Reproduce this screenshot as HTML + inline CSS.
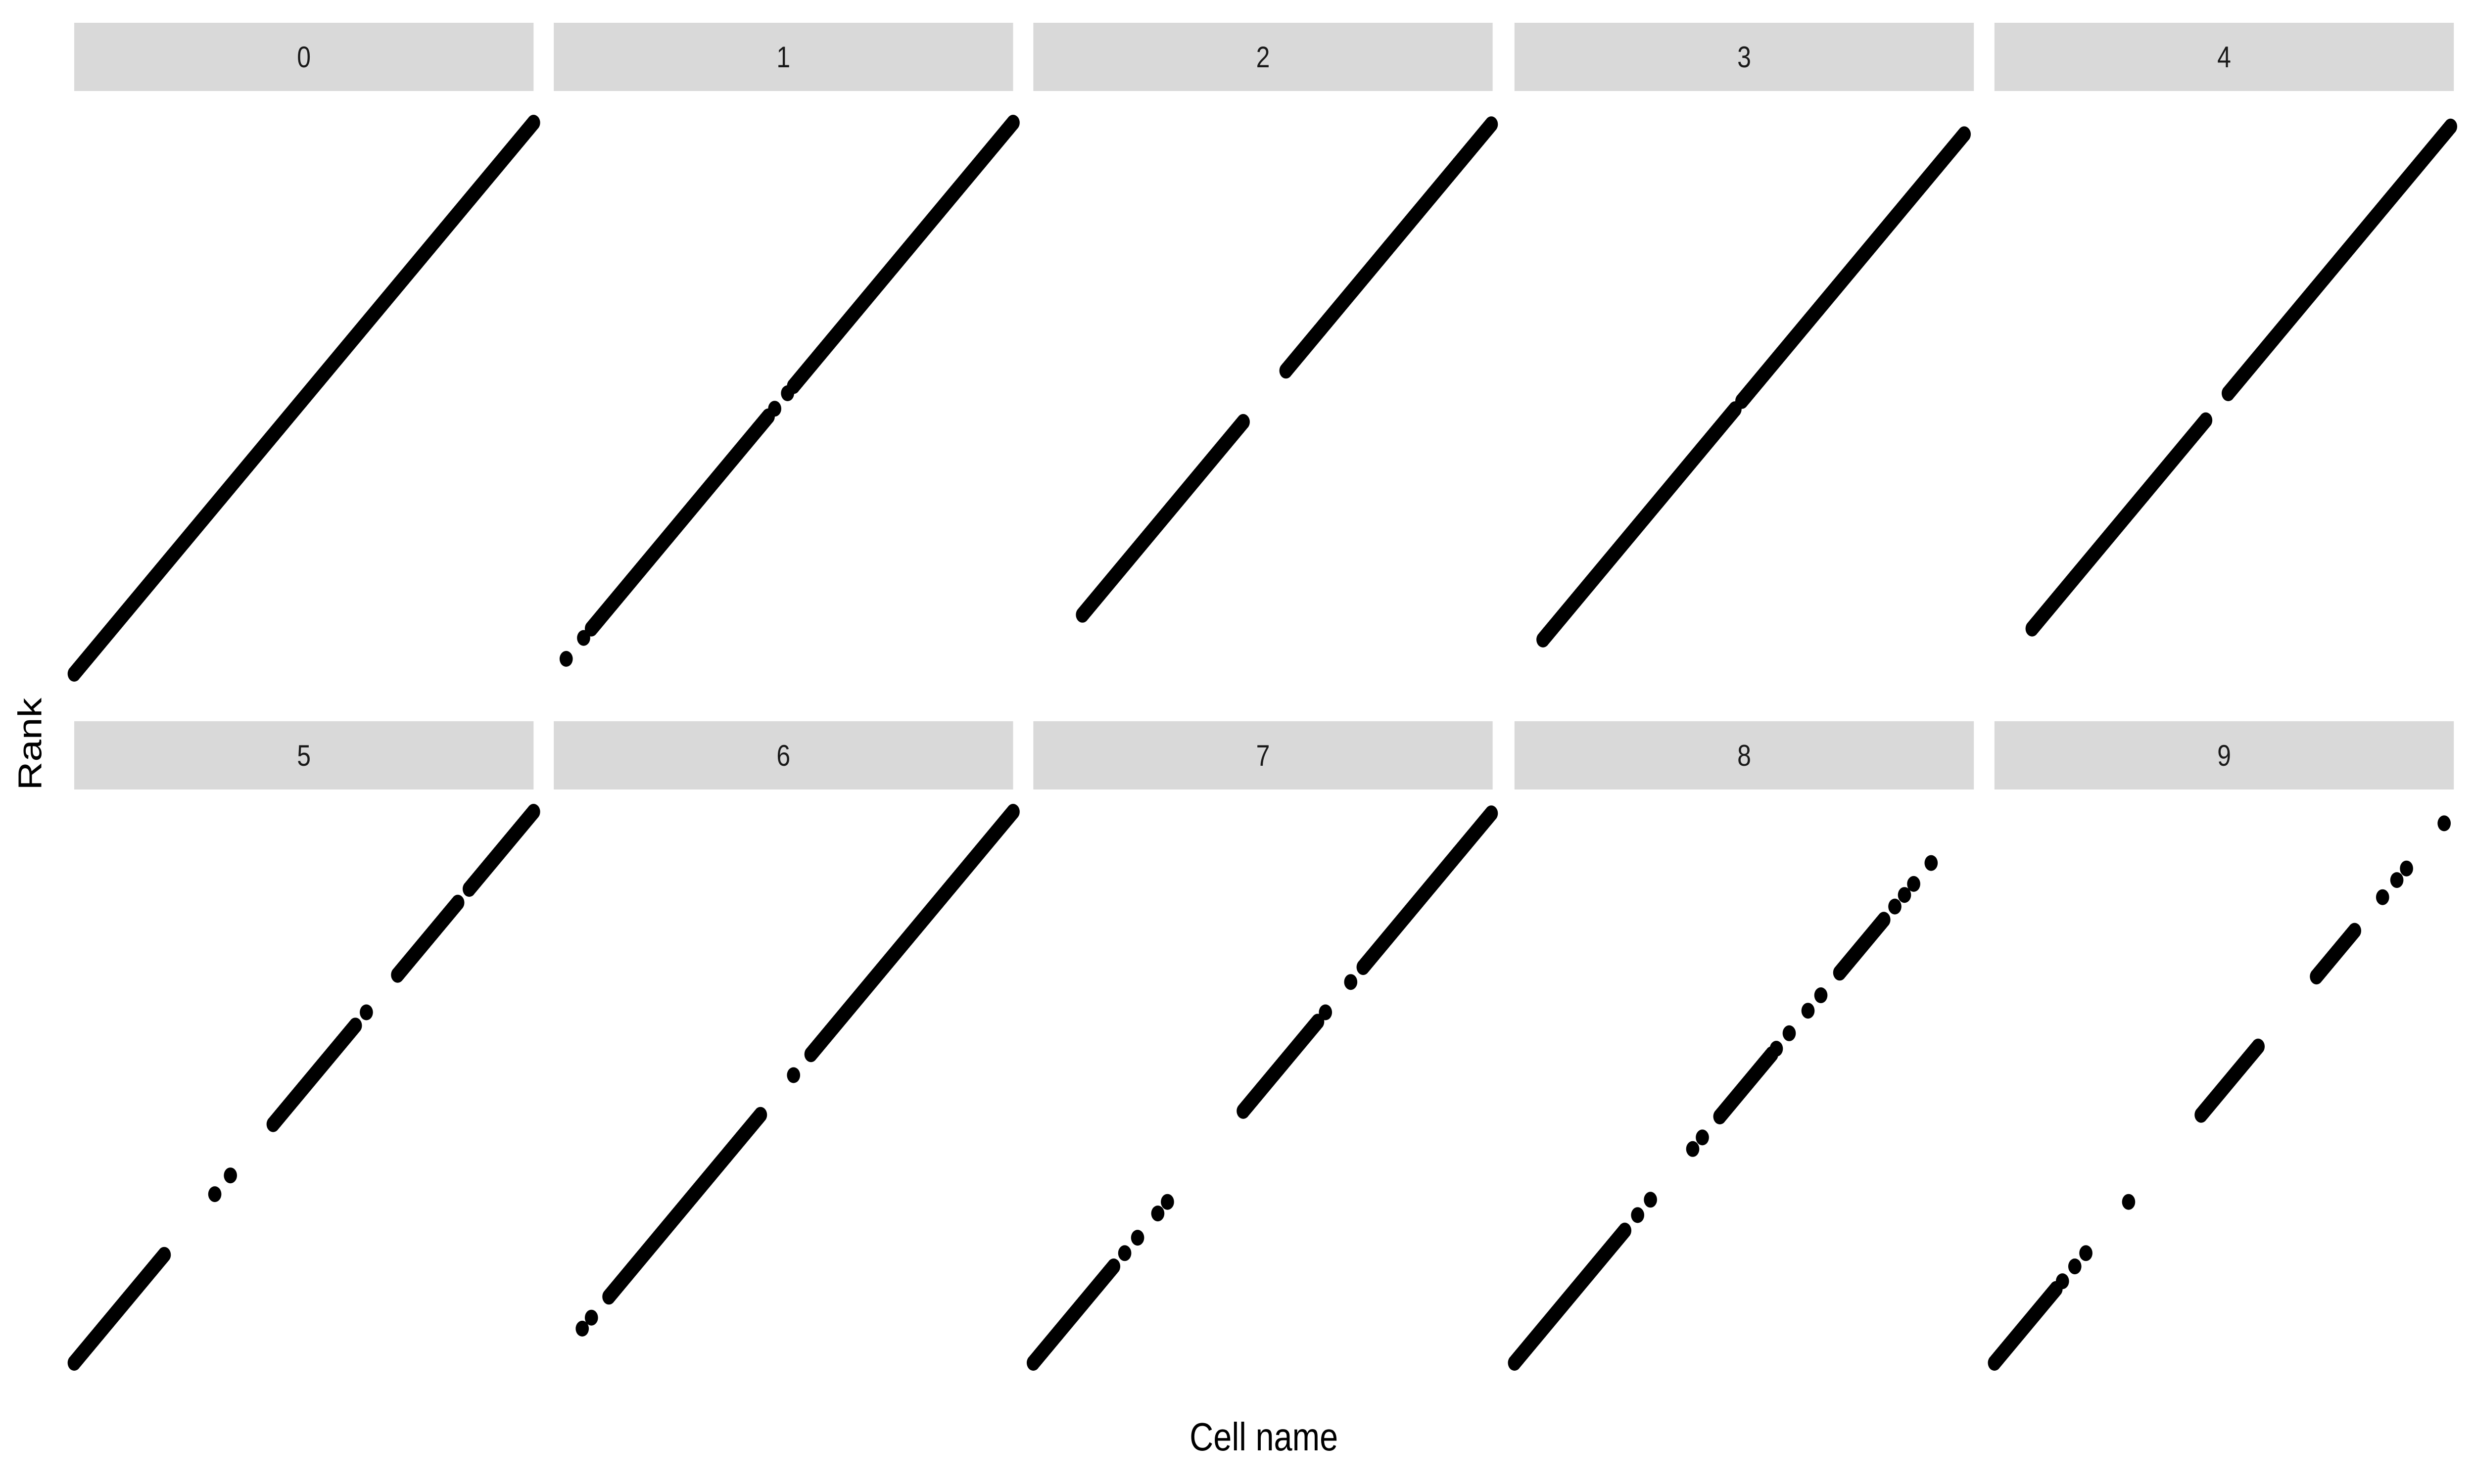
<!DOCTYPE html>
<html>
<head>
<meta charset="utf-8">
<style>
html,body{margin:0;padding:0;background:#fff;width:100%;height:100%;overflow:hidden;}
svg{display:block;width:100vw;height:100vh;}
text{font-family:"Liberation Sans",sans-serif;}
</style>
</head>
<body>
<svg id="chart" viewBox="0 0 6000 3000" preserveAspectRatio="none" xmlns="http://www.w3.org/2000/svg">
<rect width="6000" height="3000" fill="#fff"/>
<text x="0" y="0" transform="translate(100,1504) rotate(-90)" text-anchor="middle" font-size="80" fill="#000">Rank</text>
<text x="3065" y="2932" text-anchor="middle" font-size="80" fill="#000">Cell name</text>
<g id="panels"></g>
</svg>
<script>
// Panel labels (facets)
const panelLabels = ['0','1','2','3','4','5','6','7','8','9'];
// Segments of points per panel, in percent of cell order (rank follows diagonal)
const seg0 = [[0,100]];
const seg1 = [[2.7,2.7],[6.5,6.5],[8.2,46.7],[48.1,48.1],[50.9,50.9],[52.2,100]];
const seg2 = [[10.7,45.7],[55,99.7]];
const seg3 = [[6.2,48],[49.5,97.9]];
const seg4 = [[8.2,46],[50.9,99.3]];
const seg5 = [[0,19.6],[30.6,30.6],[34,34],[43.3,61.2],[63.6,63.6],[70.4,83.5],[86,100]];
const seg6 = [[6.2,6.2],[8.2,8.2],[12,45],[52.2,52.2],[56,100]];
const seg7 = [[0,17.5],[19.9,19.9],[22.7,22.7],[27.1,27.1],[29.2,29.2],[45.7,61.9],[63.6,63.6],[69.1,69.1],[71.8,99.7]];
const seg8 = [[0,24],[26.8,26.8],[29.6,29.6],[38.8,38.8],[40.9,40.9],[44.7,56],[57,57],[59.8,59.8],[63.9,63.9],[66.7,66.7],[70.8,80.4],[82.8,82.8],[84.9,84.9],[86.9,86.9],[90.7,90.7]];
const seg9 = [[0,13.4],[14.8,14.8],[17.5,17.5],[19.9,19.9],[29.2,29.2],[45,57.4],[70.1,78.4],[84.5,84.5],[87.6,87.6],[89.7,89.7],[97.9,97.9]];
const panelSegments = [seg0,seg1,seg2,seg3,seg4,seg5,seg6,seg7,seg8,seg9];

const NS = 'http://www.w3.org/2000/svg';
const colLeft = [180,1343,2506,3673,4837];
const panelW = 1114;
const stripTop = [46,1458];
const stripH = 138;
const yBase = [1362,2755];
const root = document.getElementById('panels');

function xScale(col, v){ return colLeft[col] + v/100*panelW; }
function yScale(row, v){ return yBase[row] - v/100*panelW; }

for (let p = 0; p < 10; p++) {
  const row = Math.floor(p/5), col = p%5;
  const g = document.createElementNS(NS,'g');
  
  
  const strip = document.createElementNS(NS,'rect');
  strip.setAttribute('x', colLeft[col]); strip.setAttribute('y', stripTop[row]);
  strip.setAttribute('width', panelW); strip.setAttribute('height', stripH);
  strip.setAttribute('fill', '#d9d9d9');
  
  
  g.appendChild(strip);
  const t = document.createElementNS(NS,'text');
  t.setAttribute('x', colLeft[col] + panelW/2); t.setAttribute('y', stripTop[row] + stripH/2 + 21);
  t.setAttribute('text-anchor','middle'); t.setAttribute('font-size','60'); t.setAttribute('fill','#1a1a1a');
  t.textContent = panelLabels[p];
  
  
  g.appendChild(t);
  const pts = document.createElementNS(NS,'g');
  
  
  for (const [a,b] of panelSegments[p]) {
    const n = Math.max(1, Math.round((b-a)/0.3));
    for (let i = 0; i <= n; i++) {
      const v = a + (b-a)*i/n;
      const c = document.createElementNS(NS,'circle');
      c.setAttribute('cx', xScale(col, v).toFixed(1));
      c.setAttribute('cy', yScale(row, v).toFixed(1));
      c.setAttribute('r', '16');
      c.setAttribute('fill', '#000');
      
      
      pts.appendChild(c);
      if (a === b) break;
    }
  }
  g.appendChild(pts);
  root.appendChild(g);
}
</script>
</body>
</html>
